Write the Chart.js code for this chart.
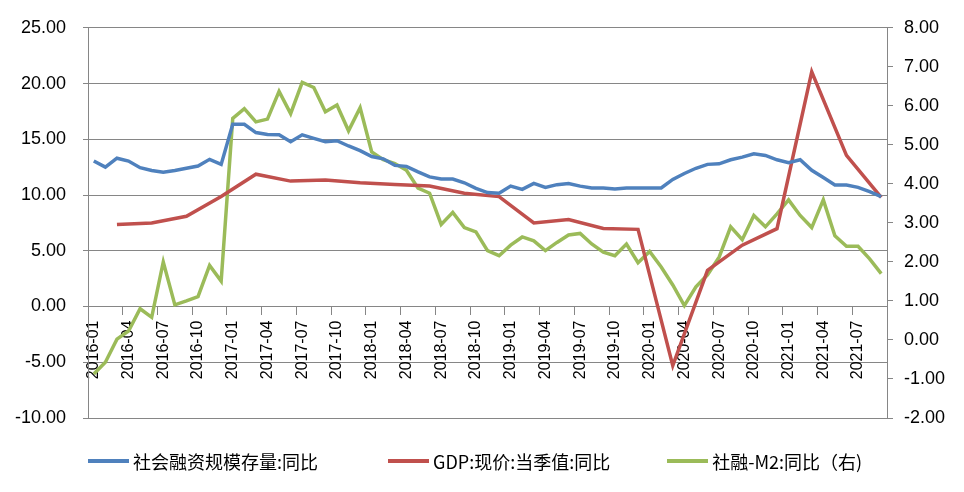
<!DOCTYPE html>
<html>
<head>
<meta charset="utf-8">
<script src="https://cdn.jsdelivr.net/npm/chart.js@4/dist/chart.umd.min.js"></script>
<style>
    html, body { margin: 0; padding: 0; background: #fff; }
    #wrap { position: relative; width: 964px; height: 492px; }
    #legend {
        position: absolute; left: 88px; right: 0; top: 448px;
        display: flex; justify-content: flex-start;
        font-family: "Noto Sans CJK SC", sans-serif; font-size: 18px; color: #000;
    }
    #legend .item { display: flex; align-items: center; }
    #legend .item:nth-child(1) { margin-right: 70px; }
    #legend .item:nth-child(2) { margin-right: 57px; }
    #legend .swatch { width: 41px; height: 4px; margin-right: 4px; }
</style>
</head>
<body>
<div id="wrap">
    <canvas id="chart" width="964" height="492"></canvas>
    <div id="legend"></div>
</div>
<script>
/* ========================================================
   DATA
======================================================== */
const months = [
    '2016-01','2016-02','2016-03','2016-04','2016-05','2016-06','2016-07','2016-08','2016-09','2016-10','2016-11','2016-12',
    '2017-01','2017-02','2017-03','2017-04','2017-05','2017-06','2017-07','2017-08','2017-09','2017-10','2017-11','2017-12',
    '2018-01','2018-02','2018-03','2018-04','2018-05','2018-06','2018-07','2018-08','2018-09','2018-10','2018-11','2018-12',
    '2019-01','2019-02','2019-03','2019-04','2019-05','2019-06','2019-07','2019-08','2019-09','2019-10','2019-11','2019-12',
    '2020-01','2020-02','2020-03','2020-04','2020-05','2020-06','2020-07','2020-08','2020-09','2020-10','2020-11','2020-12',
    '2021-01','2021-02','2021-03','2021-04','2021-05','2021-06','2021-07','2021-08','2021-09'
];

// 社会融资规模存量:同比 (left axis)
const tsfStock = [
    13.05, 12.50, 13.30, 13.05, 12.45, 12.20, 12.05, 12.20, 12.40, 12.60, 13.20, 12.75,
    16.35, 16.35, 15.60, 15.43, 15.40, 14.78, 15.40, 15.08, 14.78, 14.87, 14.40, 13.98,
    13.45, 13.25, 12.66, 12.57, 12.07, 11.63, 11.43, 11.43, 11.10, 10.60, 10.22, 10.16,
    10.80, 10.51, 11.04, 10.69, 10.93, 11.04, 10.80, 10.63, 10.63, 10.54, 10.63, 10.63,
    10.63, 10.63, 11.40, 11.93, 12.40, 12.75, 12.80, 13.16, 13.40, 13.70, 13.55, 13.16,
    12.90, 13.16, 12.22, 11.57, 10.90, 10.90, 10.69, 10.30, 9.86
];

// GDP:现价:当季值:同比 (left axis, quarterly)
const gdpNominal = [
    null, null, 7.36, null, null, 7.50, null, null, 8.10, null, null, 9.86,
    null, null, 11.87, null, null, 11.25, null, null, 11.34, null, null, 11.10,
    null, null, 10.95, null, null, 10.80, null, null, 10.16, null, null, 9.86,
    null, null, 7.50, null, null, 7.80, null, null, 7.00, null, null, 6.92,
    null, null, -5.30, null, null, 3.24, null, null, 5.50, null, null, 6.98,
    null, null, 21.05, null, null, 13.55, null, null, 9.78
];

// 社融-M2:同比（右）(right axis)
const tsfMinusM2 = [
    -0.87, -0.57, 0.02, 0.23, 0.80, 0.58, 2.00, 0.90, 1.00, 1.11, 1.91, 1.51,
    5.68, 5.93, 5.59, 5.66, 6.37, 5.80, 6.60, 6.47, 5.85, 6.02, 5.36, 5.95,
    4.82, 4.62, 4.52, 4.35, 3.89, 3.76, 2.96, 3.27, 2.88, 2.77, 2.29, 2.16,
    2.43, 2.64, 2.54, 2.29, 2.50, 2.69, 2.73, 2.46, 2.25, 2.16, 2.46, 1.98,
    2.27, 1.87, 1.41, 0.88, 1.36, 1.67, 2.12, 2.90, 2.57, 3.19, 2.90, 3.23,
    3.59, 3.19, 2.88, 3.59, 2.67, 2.40, 2.40, 2.08, 1.70
];

const seriesNames = ['社会融资规模存量:同比', 'GDP:现价:当季值:同比', '社融-M2:同比（右)'];
const seriesColors = ['#4F81BD', '#C0504D', '#9BBB59'];

/* ========================================================
   CHART
======================================================== */
const GRID = '#868686';
const tickFont = { family: '"Liberation Sans", Arial, sans-serif', size: 18 };

const ctx = document.getElementById('chart').getContext('2d');
const chart = new Chart(ctx, {
    type: 'line',
    data: {
        labels: months,
        datasets: [
            { label: seriesNames[0], data: tsfStock,   yAxisID: 'y',  borderColor: seriesColors[0] },
            { label: seriesNames[1], data: gdpNominal, yAxisID: 'y',  borderColor: seriesColors[1], spanGaps: true },
            { label: seriesNames[2], data: tsfMinusM2, yAxisID: 'y1', borderColor: seriesColors[2] }
        ].map(ds => Object.assign(ds, { borderWidth: 3.5, pointRadius: 0, tension: 0, fill: false }))
    },
    options: {
        responsive: false,
        animation: false,
        layout: { padding: { top: 22, bottom: 74, left: 0, right: 0 } },
        plugins: { legend: { display: false }, tooltip: { enabled: false } },
        scales: {
            x: {
                type: 'category',
                position: { y: 0 },
                offset: true,
                border: { color: GRID, width: 1 },
                grid: {
                    offset: true,
                    drawOnChartArea: false,
                    tickLength: 8,
                    color: c => (c.index % 3 === 0 ? GRID : 'rgba(0,0,0,0)')
                },
                ticks: {
                    autoSkip: false,
                    minRotation: 90,
                    maxRotation: 90,
                    padding: 6,
                    color: '#000',
                    font: { family: '"Liberation Sans", Arial, sans-serif', size: 16 },
                    callback: function (val, index) {
                        return index % 3 === 0 ? this.getLabelForValue(val) : '';
                    }
                }
            },
            y: {
                position: 'left',
                min: -10, max: 25,
                border: { color: GRID, width: 1 },
                grid: { color: GRID, tickLength: 5 },
                ticks: { stepSize: 5, padding: 17, color: '#000', font: tickFont, callback: v => v.toFixed(2) },
                afterFit(scale) { scale.width = 88; }
            },
            y1: {
                position: 'right',
                min: -2, max: 8,
                border: { color: GRID, width: 1 },
                grid: { drawOnChartArea: false, color: GRID, tickLength: 6 },
                ticks: { stepSize: 1, padding: 11, color: '#000', font: tickFont, callback: v => v.toFixed(2) },
                afterFit(scale) { scale.width = 77; }
            }
        }
    }
});

/* ========================================================
   LEGEND (html, from datasets)
======================================================== */
const legendEl = document.getElementById('legend');
legendEl.innerHTML = chart.data.datasets.map(ds => `
    <div class="item">
        <span class="swatch" style="background:${ds.borderColor}"></span>
        <span>${ds.label}</span>
    </div>
`).join('');
</script>
</body>
</html>
